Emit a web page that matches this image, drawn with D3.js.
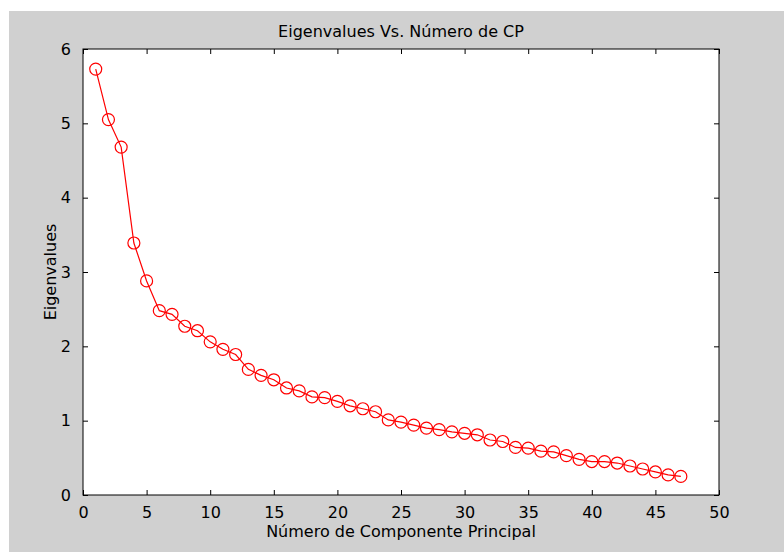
<!DOCTYPE html>
<html lang="es">
<head>
  <meta charset="utf-8">
  <title>Eigenvalues Vs. Número de CP</title>
  <style>
  html, body {padding: 0; margin: 0; overflow: hidden; background: #fff}
  text {font-family: "DejaVu Sans", sans-serif; fill: #000}
  </style>
</head>
<body>
  <svg width="784" height="552"></svg>
  <script src="https://d3js.org/d3.v7.min.js"></script>
  <script>

  // numero de componente principal
  var components = d3.range(1, 48);
  // eigenvalues
  var eigenvalues = [5.73, 5.05, 4.68, 3.39, 2.88, 2.48, 2.43, 2.27, 2.21, 2.06,
                     1.96, 1.89, 1.69, 1.61, 1.55, 1.44, 1.40, 1.32, 1.31, 1.26,
                     1.20, 1.16, 1.12, 1.01, 0.98, 0.94, 0.90, 0.88, 0.85, 0.83,
                     0.81, 0.74, 0.72, 0.64, 0.63, 0.59, 0.58, 0.53, 0.48, 0.45,
                     0.45, 0.43, 0.39, 0.35, 0.31, 0.27, 0.25];
  var xTicks = d3.range(0, 51, 5);
  var yTicks = d3.range(0, 7, 1);

  var title = "Eigenvalues Vs. Número de CP",
      xTitle = "Número de Componente Principal",
      yTitle = "Eigenvalues";

  var svg = d3.select("svg"),
      width = 784,
      height = 552,
      margin = {top: 49, right: 65, bottom: 57, left: 83};

  var w = width - margin.left - margin.right,
      h = height - margin.top - margin.bottom;

  // figure background
  svg.append("rect")
    .attr("x", 9).attr("y", 11)
    .attr("width", width - 9).attr("height", height - 11)
    .attr("fill", "#d0d0d0");

  var x = d3.scaleLinear().domain([0, 50]).range([0, w]);
  var y = d3.scaleLinear().domain([0, 6]).range([h, 0]);

  var g = svg.append("g")
    .attr("transform", "translate(" + margin.left + "," + margin.top + ")");

  g.append("rect")
    .attr("width", w).attr("height", h)
    .attr("fill", "#fff");

  function styleAxis(sel, showLabels) {
    sel.select(".domain").remove();
    sel.selectAll(".tick line").attr("stroke", "#000");
    sel.selectAll(".tick text")
      .style("font-size", "16px")
      .style("font-family", "DejaVu Sans, sans-serif")
      .attr("fill", "#1a1a1a");
    if (!showLabels) sel.selectAll(".tick text").remove();
  }

  var fmt = d3.format("d");

  g.append("g")
    .attr("transform", "translate(0," + h + ")")
    .call(d3.axisBottom(x).tickValues(xTicks).tickFormat(fmt).tickSize(-5).tickPadding(12))
    .call(styleAxis, true);

  g.append("g")
    .call(d3.axisTop(x).tickValues(xTicks).tickSize(-5))
    .call(styleAxis, false);

  g.append("g")
    .call(d3.axisLeft(y).tickValues(yTicks).tickFormat(fmt).tickSize(-5).tickPadding(12))
    .call(styleAxis, true);

  g.append("g")
    .attr("transform", "translate(" + w + ",0)")
    .call(d3.axisRight(y).tickValues(yTicks).tickSize(-5))
    .call(styleAxis, false);

  // axes box
  g.append("rect")
    .attr("width", w).attr("height", h)
    .attr("fill", "none")
    .attr("stroke", "#000")
    .attr("stroke-width", 1);

  var data = components.map(function(c, i) { return {c: c, v: eigenvalues[i]}; });

  var line = d3.line()
    .x(function(d) { return x(d.c); })
    .y(function(d) { return y(d.v); });

  g.append("path")
    .datum(data)
    .attr("d", line)
    .attr("fill", "none")
    .attr("stroke", "#ff0000")
    .attr("stroke-width", 1.2);

  g.selectAll("circle.pt")
    .data(data)
    .enter().append("circle")
    .attr("class", "pt")
    .attr("cx", function(d) { return x(d.c); })
    .attr("cy", function(d) { return y(d.v); })
    .attr("r", 6)
    .attr("fill", "none")
    .attr("stroke", "#ff0000")
    .attr("stroke-width", 1.2);

  svg.append("text")
    .attr("x", margin.left + w / 2)
    .attr("y", 37)
    .attr("text-anchor", "middle")
    .attr("fill", "#1a1a1a")
    .style("font-size", "16px")
    .text(title);

  svg.append("text")
    .attr("x", margin.left + w / 2)
    .attr("y", 537)
    .attr("text-anchor", "middle")
    .attr("fill", "#1a1a1a")
    .style("font-size", "16px")
    .text(xTitle);

  svg.append("text")
    .attr("transform", "translate(56," + (margin.top + h / 2) + ") rotate(-90)")
    .attr("text-anchor", "middle")
    .attr("fill", "#1a1a1a")
    .style("font-size", "16px")
    .text(yTitle);

  </script>
</body>
</html>
